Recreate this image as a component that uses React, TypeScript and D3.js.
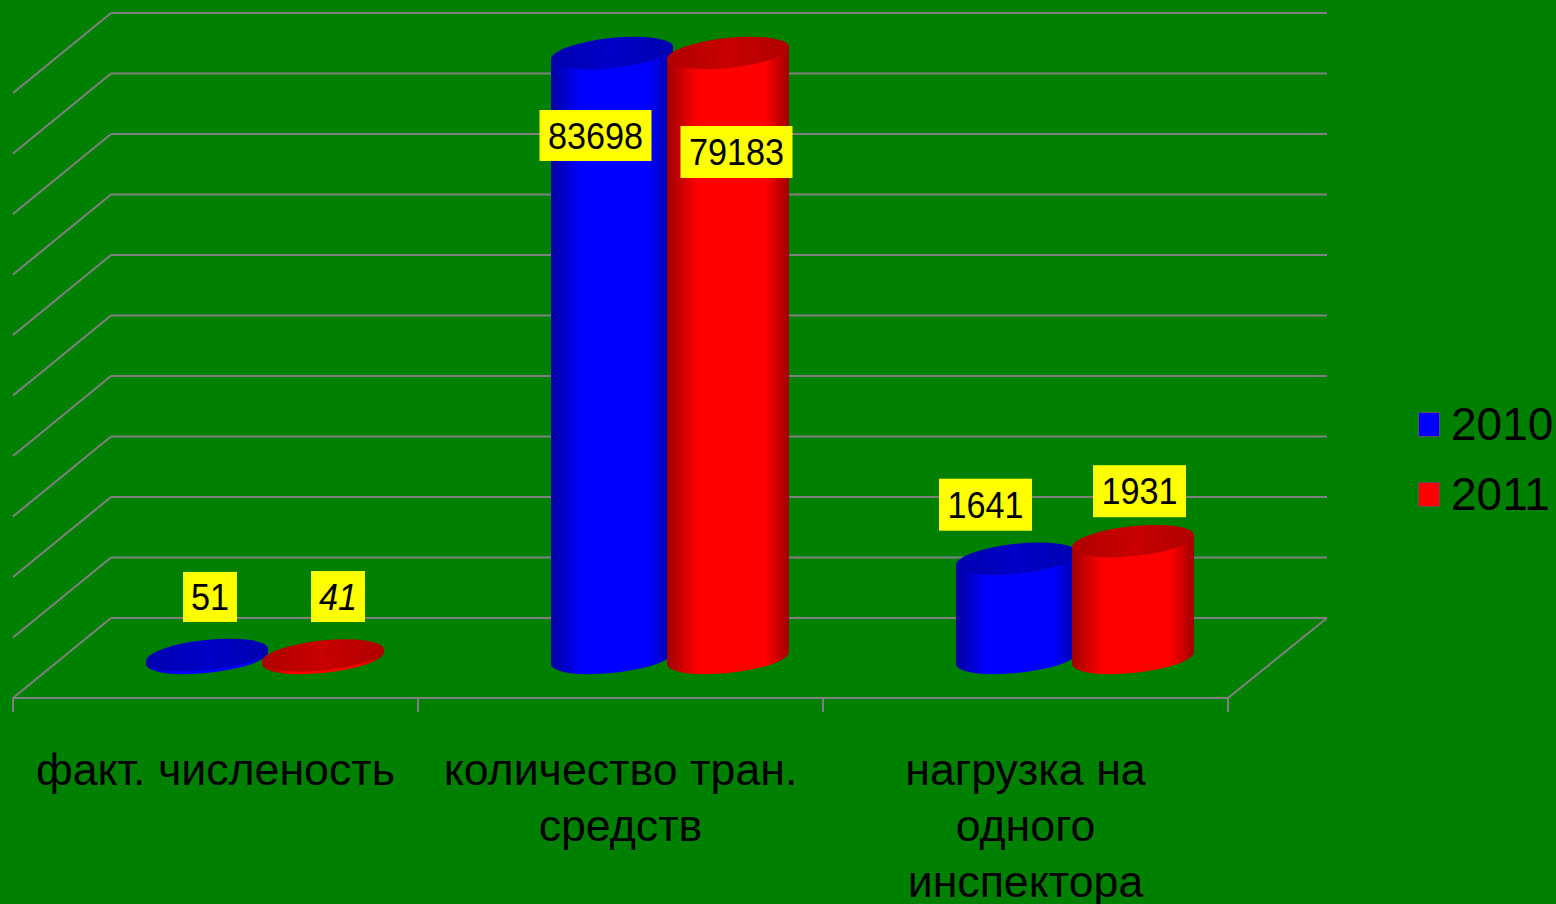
import React from "react";
import * as d3 from "d3";

const categories = [["факт. численость"], ["количество тран.", "средств"], ["нагрузка на", "одного", "инспектора"]];
const seriesNames = ["2010", "2011"];
const labels2010 = ["51", "83698", "1641"];
const labels2011 = ["41", "79183", "1931"];
const values2010 = [51, 83698, 1641];
const values2011 = [41, 79183, 1931];

const W = 1556, H = 904;
const floorL = 13, floorR = 1228, floorY = 698, dx3 = 98, dy3 = 80;
const wallBottom = floorY - dy3, wallTop = 13;
const baseY = 658;
const RX = 61.3, RY = 15, ANGLE = -6;
const FONT = "'Liberation Sans', Arial, sans-serif";
const GRID = "#808080";

const y = d3.scaleLinear().domain([0, 10000]).range([wallBottom, wallTop]).clamp(true);
const x0 = d3.scaleBand<number>().domain([0, 1, 2]).range([floorL, floorR]);
const x1 = d3.scaleBand<number>().domain([0, 1]).range([136, 368]);
const barX = (c: number, s: number) => (x0(c) as number) + (x1(s) as number) + x1.bandwidth() / 2;

const palette = [
  { id: "b", edge: "#0000a0", mid: "#0000ff", topA: "#0000b0", topB: "#0000c8", swatch: "#0000ff" },
  { id: "r", edge: "#a00000", mid: "#ff0000", topA: "#b00000", topB: "#c80000", swatch: "#ff0000" },
];
// hand-placed label offsets from (bar centre, bar top), [dx, dy]
const labelNudge = [
  [[3, -58], [-16.5, 82.5], [-31.5, -54]],
  [[15, -59], [8.5, 99], [6.5, -50]],
];
const labelSize = [
  [[54, 50], [112, 51], [93, 52]],
  [[54, 51], [112, 52], [93, 52]],
];

const rad = (ANGLE * Math.PI) / 180;
const hw = Math.sqrt(RX * RX * Math.cos(rad) ** 2 + RY * RY * Math.sin(rad) ** 2);
const edgeDy = ((RX * RX - RY * RY) * Math.sin(rad) * Math.cos(rad)) / hw;

function Cylinder({ cx, top, s }: { cx: number; top: number; s: number }) {
  const p = palette[s];
  const lx = cx - hw, rx = cx + hw;
  const body = `M${lx},${top - edgeDy} L${lx},${baseY - edgeDy} A${RX},${RY} ${ANGLE} 0 0 ${rx},${baseY + edgeDy} L${rx},${top + edgeDy} Z`;
  return (
    <g>
      <path d={body} fill={`url(#body-${p.id})`} />
      <ellipse cx={cx} cy={top} rx={RX} ry={RY} transform={`rotate(${ANGLE} ${cx} ${top})`} fill={`url(#top-${p.id})`} />
    </g>
  );
}

export default function App() {
  const series = [values2010, values2011];
  const text = [labels2010, labels2011];
  return (
    <svg width={W} height={H} viewBox={`0 0 ${W} ${H}`} style={{ position: "absolute", left: 0, top: 0, display: "block" }}>
      <defs>
        {palette.map((p) => (
          <React.Fragment key={p.id}>
            <linearGradient id={`body-${p.id}`} x1="0" x2="1" y1="0" y2="0">
              <stop offset="0" stopColor={p.edge} />
              <stop offset="0.25" stopColor={p.mid} />
              <stop offset="0.8" stopColor={p.mid} />
              <stop offset="1" stopColor={p.edge} />
            </linearGradient>
            <linearGradient id={`top-${p.id}`} x1="0" x2="1" y1="0" y2="0">
              <stop offset="0" stopColor={p.topA} />
              <stop offset="0.5" stopColor={p.topB} />
              <stop offset="1" stopColor={p.topA} />
            </linearGradient>
          </React.Fragment>
        ))}
      </defs>
      <rect width={W} height={H} fill="#008000" />
      {y.ticks(10).map((t) => (
        <g key={t} stroke={GRID} strokeWidth={2} fill="none">
          <line x1={floorL + dx3} x2={floorR + dx3 + 1} y1={y(t)} y2={y(t)} />
          {t > 0 && <line x1={floorL + dx3} x2={floorL} y1={y(t)} y2={y(t) + dy3} />}
        </g>
      ))}
      <g stroke={GRID} strokeWidth={2} fill="none">
        <line x1={floorL} x2={floorR} y1={floorY} y2={floorY} />
        <line x1={floorL} x2={floorL + dx3} y1={floorY} y2={wallBottom} />
        <line x1={floorR} x2={floorR + dx3 + 1} y1={floorY} y2={wallBottom} />
        {[0, 1, 2, 3].map((i) => {
          const tx = floorL + i * x0.bandwidth();
          return <line key={i} x1={tx} x2={tx} y1={floorY} y2={floorY + 14} />;
        })}
      </g>
      {categories.map((_, c) => (
        <g key={c}>
          {series.map((vals, s) => {
            const h = wallBottom - y(vals[c]);
            return <Cylinder key={s} cx={barX(c, s)} top={baseY - h} s={s} />;
          })}
        </g>
      ))}
      {categories.map((_, c) =>
        series.map((vals, s) => {
          const cx = barX(c, s);
          const top = baseY - (wallBottom - y(vals[c]));
          const lx = cx + labelNudge[s][c][0];
          const ly = top + labelNudge[s][c][1];
          const [w, h] = labelSize[s][c];
          return (
            <g key={`${c}-${s}`}>
              <rect x={lx - w / 2} y={ly - h / 2} width={w} height={h} fill="#ffff00" />
              <text
                transform={`translate(${lx},${ly + 13}) scale(0.95,1.05)`}
                textAnchor="middle"
                fontFamily={FONT}
                fontSize={36}
                fontStyle={c === 0 && s === 1 ? "italic" : "normal"}
                fill="#000"
              >
                {text[s][c]}
              </text>
            </g>
          );
        })
      )}
      {categories.map((lines, c) => (
        <text key={c} textAnchor="middle" fontFamily={FONT} fontSize={44.7} fill="#000">
          {lines.map((ln, i) => (
            <tspan key={i} x={(x0(c) as number) + x0.bandwidth() / 2} y={785 + i * 56}>
              {ln}
            </tspan>
          ))}
        </text>
      ))}
      {seriesNames.map((n, i) => (
        <g key={n}>
          <rect x={1418.5} y={412.5 + i * 70} width={21} height={24} fill={palette[i].swatch} stroke="#555" strokeWidth={1} />
          <text x={1451} y={439.5 + i * 70} fontFamily={FONT} fontSize={46} fill="#000">
            {n}
          </text>
        </g>
      ))}
    </svg>
  );
}
